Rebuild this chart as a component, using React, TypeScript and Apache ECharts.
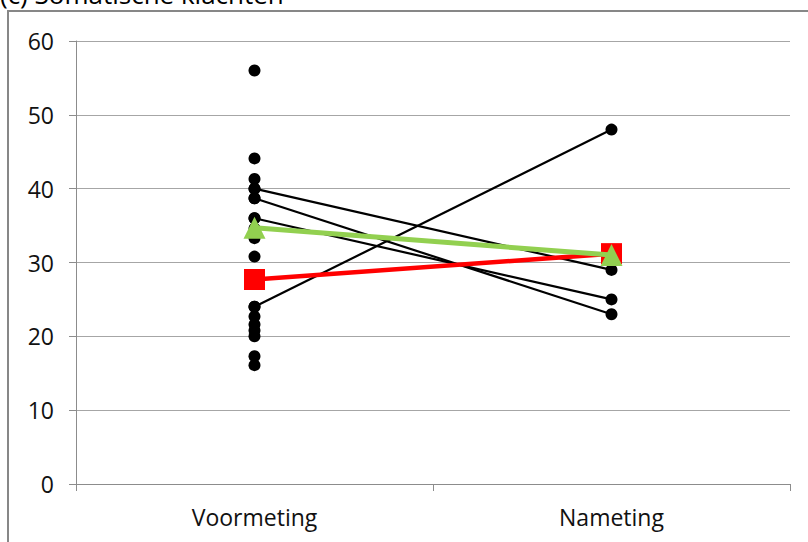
import React, { useEffect, useRef } from "react";
import * as echarts from "echarts";

const categories = ["Voormeting", "Nameting"];
const yTicks = { min: 0, max: 60, interval: 10 };

// individual scores at Voormeting (unpaired points)
const voorPoints = [56, 44.1, 41.3, 40, 38.7, 36, 34.6, 33.3, 30.8, 24, 22.7, 21.6, 20.8, 20, 17.3, 16.1];
// paired individuals (Voormeting, Nameting)
const person1 = [40, 29];
const person2 = [38.7, 23];
const person3 = [36, 25];
const person4 = [24, 48];
const extraNa = [31];
// group means
const redMean = [27.7, 31.2];
const greenMean = [34.7, 31];

const titleText = "(c) Somatische klachten";

export default function App() {
  const ref = useRef<HTMLDivElement>(null);
  useEffect(() => {
    const chart = echarts.init(ref.current!, null, { renderer: "svg" });
    const font = "'Open Sans', sans-serif";
    const pairLine = (d: number[]) => ({
      type: "line",
      data: d,
      symbol: "circle",
      symbolSize: 12,
      lineStyle: { color: "#000", width: 2.2 },
      itemStyle: { color: "#000", opacity: 1 },
      z: 3,
    });
    chart.setOption({
      animation: false,
      grid: { left: 76, right: 18, top: 41, bottom: 58 },
      xAxis: {
        type: "category",
        data: categories,
        boundaryGap: true,
        axisLine: { lineStyle: { color: "#8c8c8c", width: 1 } },
        axisTick: { show: true, length: 7, lineStyle: { color: "#8c8c8c" } },
        axisLabel: { color: "#111", fontFamily: font, fontSize: 23, margin: 21 },
      },
      yAxis: {
        type: "value",
        min: yTicks.min,
        max: yTicks.max,
        interval: yTicks.interval,
        axisLine: { show: true, lineStyle: { color: "#8c8c8c", width: 1 } },
        axisTick: { show: true, length: 7, lineStyle: { color: "#8c8c8c" } },
        splitLine: { lineStyle: { color: "#a6a6a6", width: 1 } },
        axisLabel: { color: "#111", fontFamily: font, fontSize: 23, margin: 22 },
      },
      graphic: [
        {
          type: "polyline",
          shape: { points: [[8, 542], [8, 11], [810, 11]] },
          style: { stroke: "#878787", lineWidth: 2, fill: "none" },
          silent: true,
        },
        {
          type: "text",
          left: 0,
          top: -19,
          style: { text: titleText, font: `26px ${font}`, fill: "#000" },
          silent: true,
        },
      ],
      series: [
        {
          type: "scatter",
          data: voorPoints.map((v) => [categories[0], v]),
          symbolSize: 12,
          itemStyle: { color: "#000", opacity: 1 },
          z: 2,
        },
        {
          type: "scatter",
          data: extraNa.map((v) => [categories[1], v]),
          symbolSize: 12,
          itemStyle: { color: "#000", opacity: 1 },
          z: 2,
        },
        pairLine(person1),
        pairLine(person2),
        pairLine(person3),
        pairLine(person4),
        {
          type: "line",
          data: redMean,
          symbol: "rect",
          symbolSize: 21,
          lineStyle: { color: "#ff0000", width: 4.5 },
          itemStyle: { color: "#ff0000", opacity: 1 },
          z: 4,
        },
        {
          type: "line",
          data: greenMean,
          symbol: "triangle",
          symbolSize: 22,
          lineStyle: { color: "#92d050", width: 5 },
          itemStyle: { color: "#92d050", opacity: 1 },
          z: 5,
        },
      ],
    });
    return () => chart.dispose();
  }, []);
  return (
    <div
      ref={ref}
      style={{ position: "fixed", left: 0, top: 0, width: 808, height: 542, background: "#fff" }}
    />
  );
}
